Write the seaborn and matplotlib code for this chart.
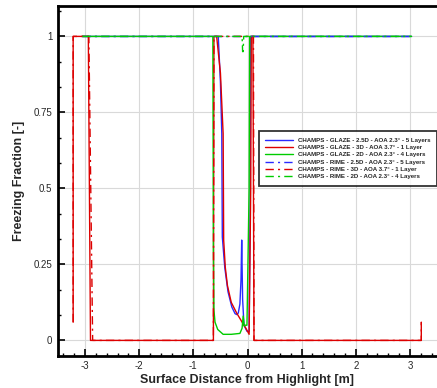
import matplotlib
matplotlib.use('Agg')
import matplotlib.pyplot as plt
import seaborn as sns
import numpy as np

# plot setting
sns.set_style('whitegrid')
plt.rcParams['font.family'] = ['Liberation Sans', 'DejaVu Sans']

# --- data ---
glaze_25d_x = [-3.05, -0.54, -0.50, -0.475, -0.465, -0.42, -0.36, -0.29, -0.23, -0.20, -0.17,
               -0.14, -0.12, -0.107, -0.09, -0.065, -0.01, 0.03, 0.05, 0.055, 3.03]
glaze_25d_y = [1, 1, 0.85, 0.68, 0.34, 0.24, 0.16, 0.11, 0.088, 0.085, 0.09,
               0.12, 0.2, 0.33, 0.135, 0.05, 0.03, 0.03, 0.46, 1, 1]

glaze_3d_x = [-3.22, -3.22, -2.94, -2.90, -0.63, -0.62, -0.57, -0.50, -0.45, -0.44, -0.41,
              -0.37, -0.30, -0.20, -0.10, -0.03, 0.03, 0.06, 0.07, 0.10, 0.12, 3.21, 3.21]
glaze_3d_y = [0.06, 1, 1, 0, 0, 1, 1, 0.88, 0.68, 0.33, 0.24,
              0.18, 0.125, 0.09, 0.06, 0.04, 0.02, 0.5, 1, 1, 0, 0, 0.06]

glaze_2d_x = [-3.05, -0.64, -0.63, -0.62, -0.60, -0.55, -0.45, -0.30, -0.14, -0.10, -0.08,
              -0.06, -0.04, -0.01, 0.03, 0.04, 3.03]
glaze_2d_y = [1, 1, 0.3, 0.1, 0.06, 0.036, 0.02, 0.02, 0.023, 0.04, 0.08,
              0.047, 0.05, 0.05, 0.5, 1, 1]

rime_25d_x = [-3.05, 3.03]
rime_25d_y = [1, 1]

rime_3d_x = [-3.22, -3.22, -2.93, -2.86, -0.63, -0.62, 0.11, 0.12, 3.21, 3.21]
rime_3d_y = [0.06, 1, 1, 0, 0, 1, 1, 0, 0, 0.06]

rime_2d_x = [-3.05, -0.10, -0.09, -0.08, -0.07, 3.03]
rime_2d_y = [1, 1, 0.95, 0.95, 1, 1]

labels = [
    'CHAMPS - GLAZE - 2.5D - AOA 2.3° - 5 Layers',
    'CHAMPS - GLAZE - 3D - AOA 3.7° - 1 Layer',
    'CHAMPS - GLAZE - 2D - AOA 2.3° - 4 Layers',
    'CHAMPS - RIME - 2.5D - AOA 2.3° - 5 Layers',
    'CHAMPS - RIME - 3D - AOA 3.7° - 1 Layer',
    'CHAMPS - RIME - 2D - AOA 2.3° - 4 Layers',
]

blue = '#2a2aff'
red = '#dd0000'
green = '#00cc00'
dashdot = (0, (6, 3, 1.5, 3))

series = [
    (glaze_25d_x, glaze_25d_y, blue, '-'),
    (glaze_3d_x, glaze_3d_y, red, '-'),
    (glaze_2d_x, glaze_2d_y, green, '-'),
    (rime_25d_x, rime_25d_y, blue, dashdot),
    (rime_3d_x, rime_3d_y, red, dashdot),
    (rime_2d_x, rime_2d_y, green, dashdot),
]

fig = plt.figure(figsize=(4.37, 3.88), dpi=100)
ax = fig.add_axes([58 / 437, 1 - 355.6 / 388, 1 - 58 / 437, 349.6 / 388])

for (x, y, c, ls), lab in zip(series, labels):
    sns.lineplot(x=x, y=y, sort=False, estimator=None, ax=ax, color=c,
                 linestyle=ls, linewidth=1.0, label=lab)

# axes layout
ax.set_xlim(-3.5, 3.5)
ax.set_ylim(-0.05, 1.1)
ax.set_xticks(np.arange(-3, 4, 1))
ax.set_xticklabels(['-3', '-2', '-1', '0', '1', '2', '3'])
ax.set_xticks(np.arange(-3.4, 3.5, 0.2), minor=True)
ax.set_yticks([0, 0.25, 0.5, 0.75, 1])
ax.set_yticklabels(['0', '0.25', '0.5', '0.75', '1'])
ax.set_yticks(np.arange(0, 1.09, 0.25 / 3), minor=True)
ax.tick_params(which='major', direction='in', length=5, width=1.2, color='black',
               labelsize=7, pad=4, top=False, right=False, bottom=True, left=True)
ax.tick_params(which='minor', direction='in', length=2.5, width=1, color='black',
               top=False, right=False, bottom=True, left=True)
ax.grid(True, which='major', color='#d9d9d9', linewidth=0.8)
ax.grid(False, which='minor')

for side in ['left', 'bottom', 'top']:
    ax.spines[side].set_color('black')
    ax.spines[side].set_linewidth(2)
ax.spines['right'].set_visible(False)

ax.set_xlabel('Surface Distance from Highlight [m]', fontsize=9, fontweight='bold', labelpad=2)
ax.set_ylabel('Freezing Fraction [-]', fontsize=9, fontweight='bold', labelpad=6)

leg = ax.legend(loc='upper right', bbox_to_anchor=(1.0, 1 - 131 / 388),
                bbox_transform=fig.transFigure, prop={'size': 4.4, 'weight': 'bold'},
                frameon=True, fancybox=False, handlelength=4.6, labelspacing=0.32,
                borderpad=1.1, handletextpad=0.7, borderaxespad=0)
leg.get_frame().set_edgecolor('black')
leg.get_frame().set_linewidth(1.3)

fig.savefig('out.png', dpi=100)
